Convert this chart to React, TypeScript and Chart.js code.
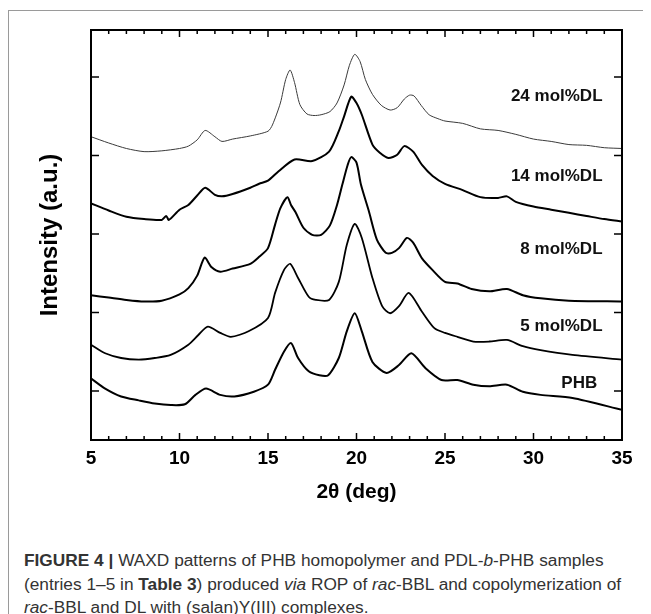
import React, { useEffect, useRef } from "react";
import { Chart, registerables } from "chart.js";

Chart.register(...registerables);

// 2θ positions (deg) and intensities (a.u., stacked offsets)
const dl24X = [5, 6, 7, 8, 9, 10, 10.5, 11, 11.45, 12, 12.4, 13, 14, 15, 15.25, 15.7, 16.0, 16.25, 16.5, 16.8, 17.2, 17.6, 18, 18.5, 18.9, 19.3, 19.6, 19.9, 20.2, 20.5, 20.9, 21.4, 21.9, 22.3, 22.7, 23.0, 23.25, 23.65, 24.1, 24.6, 25, 26, 27, 28, 29, 30, 31, 32, 33, 34, 35];
const dl24Y = [324, 316, 309, 305, 306, 309, 312, 320, 332, 324, 318, 321, 325, 331, 339, 367, 397, 409, 393, 365, 353, 351, 352, 356, 367, 390, 415, 429, 420, 397, 378, 364, 358, 361, 372, 377, 376, 364, 352, 347, 344, 341, 334, 332, 327, 321, 318, 314, 313, 310, 309];

const dl14X = [5, 6, 7, 8, 9, 9.25, 9.4, 10, 10.5, 11, 11.45, 12, 12.4, 13, 14, 14.5, 15, 15.6, 16.5, 17.5, 18.45, 19, 19.3, 19.7, 20.0, 20.3, 20.9, 21.3, 21.8, 22.3, 22.7, 23.2, 23.7, 24.3, 25, 26, 27, 28, 28.5, 29, 30, 31, 32, 33, 34, 35];
const dl14Y = [239, 230, 222, 219, 218, 223, 218, 231, 237, 249, 259, 250, 248, 251, 259, 264, 268, 280, 295, 293, 305, 331, 350, 375, 367, 352, 314, 304, 297, 301, 312, 305, 288, 274, 264, 256, 247, 246, 248, 241, 235, 231, 227, 223, 219, 216];

const dl8X = [5, 6, 7, 8, 9, 10, 10.5, 11, 11.42, 11.8, 12.3, 13, 14, 14.5, 15, 15.4, 15.7, 16.1, 16.3, 16.55, 17.0, 17.5, 18, 18.5, 18.9, 19.2, 19.5, 19.7, 20.0, 20.25, 20.7, 21.15, 21.65, 22.0, 22.4, 22.85, 23.2, 23.7, 24.3, 25, 25.7, 26.5, 27.5, 28.5, 29.4, 30.4, 32, 35];
const dl8Y = [122, 119, 116, 114, 115, 123, 131, 147, 170, 158, 152, 156, 162, 171, 182, 212, 233, 247, 237, 228, 208, 199, 199, 211, 237, 263, 288, 298, 291, 263, 229, 193, 176, 176, 182, 195, 189, 169, 154, 139, 137, 130, 127, 130, 122, 118, 115, 114];

const dl5X = [5, 5.8, 6.7, 7.7, 8.6, 9.5, 10.5, 11.05, 11.6, 12.3, 12.9, 13.9, 15, 15.4, 15.9, 16.25, 16.7, 17.3, 17.7, 18.45, 19.0, 19.45, 19.9, 20.3, 20.9, 21.45, 21.9, 22.4, 22.95, 23.7, 24.4, 25, 25.7, 26.6, 27.5, 28.5, 29.4, 30.4, 32.2, 35];
const dl5Y = [59, 48, 42, 40, 42, 46, 59, 71, 82, 74, 69, 76, 93, 125, 154, 162, 144, 120, 116, 116, 139, 186, 213, 195, 144, 108, 99, 108, 125, 101, 80, 74, 69, 63, 63, 65, 57, 52, 46, 40];

const phbX = [5, 5.8, 6.7, 7.7, 8.6, 9.5, 10.3, 10.9, 11.5, 12.3, 13.1, 14.2, 15, 15.4, 15.9, 16.3, 16.7, 17.3, 17.9, 18.4, 19.0, 19.45, 19.9, 20.3, 20.9, 21.7, 22.4, 23.1, 23.9, 24.8, 25.7, 26.6, 27.5, 28.5, 29.4, 30.4, 32.2, 35];
const phbY = [16, 3, -7, -12, -16, -18, -17, -5, 3, -5, -7, -1, 8, 27, 50, 61, 42, 25, 20, 20, 42, 76, 99, 76, 37, 23, 33, 48, 29, 14, 14, 8, 6, 8, -1, -5, -9, -24];

const seriesNames = ["24 mol%DL", "14 mol%DL", "8 mol%DL", "5 mol%DL", "PHB"];
const labelX = [33.9, 33.9, 33.9, 33.9, 33.6];
const labelY = [375, 274, 180, 83, 10];
const yTickValues = [0, 100, 200, 300, 400];
const xMin = 5;
const xMax = 35;

const FONT = "'Liberation Sans', Arial, Helvetica, sans-serif";

function pts(xs: number[], ys: number[]) {
  return xs.map((x, i) => ({ x, y: ys[i] }));
}

const framePlugin = {
  id: "frame",
  afterDatasetsDraw(chart: any) {
    const { ctx, chartArea } = chart;
    const { left, right, top, bottom } = chartArea;
    const x = chart.scales.x;
    const y = chart.scales.y;
    ctx.save();
    ctx.strokeStyle = "#000";
    ctx.lineWidth = 2;
    ctx.strokeRect(left, top, right - left, bottom - top);
    ctx.lineWidth = 1.5;
    ctx.beginPath();
    for (const t of x.ticks) {
      const px = x.getPixelForValue(t.value);
      const len = t.value % 5 === 0 ? 7 : 4;
      ctx.moveTo(px, bottom);
      ctx.lineTo(px, bottom - len);
      ctx.moveTo(px, top);
      ctx.lineTo(px, top + len);
    }
    for (const v of yTickValues) {
      const py = y.getPixelForValue(v);
      ctx.moveTo(left, py);
      ctx.lineTo(left + 8, py);
      ctx.moveTo(right, py);
      ctx.lineTo(right - 8, py);
    }
    ctx.stroke();
    ctx.font = `bold 17px ${FONT}`;
    ctx.textAlign = "right";
    ctx.textBaseline = "middle";
    ctx.fillStyle = "#111";
    seriesNames.forEach((n, i) => {
      ctx.fillText(n, x.getPixelForValue(labelX[i]), y.getPixelForValue(labelY[i]));
    });
    ctx.restore();
  },
};

export default function App() {
  const ref = useRef<HTMLCanvasElement | null>(null);

  useEffect(() => {
    if (!ref.current) return;
    const series = [
      { d: pts(dl24X, dl24Y), c: "#3a3a3a", w: 1 },
      { d: pts(dl14X, dl14Y), c: "#000", w: 2 },
      { d: pts(dl8X, dl8Y), c: "#000", w: 2 },
      { d: pts(dl5X, dl5Y), c: "#000", w: 1.8 },
      { d: pts(phbX, phbY), c: "#000", w: 2 },
    ];
    const chart = new Chart(ref.current, {
      type: "line",
      data: {
        datasets: series.map((s, i) => ({
          label: seriesNames[i],
          data: s.d,
          borderColor: s.c,
          borderWidth: s.w,
          pointRadius: 0,
          fill: false,
          tension: 0.25,
        })),
      },
      options: {
        responsive: false,
        maintainAspectRatio: false,
        animation: false,
        layout: { padding: { left: 0, right: 20, top: 19, bottom: 0 } },
        plugins: { legend: { display: false }, tooltip: { enabled: false } },
        scales: {
          x: {
            type: "linear",
            min: xMin,
            max: xMax,
            grid: { display: false, drawTicks: false },
            border: { display: false },
            ticks: {
              stepSize: 1,
              autoSkip: false,
              maxRotation: 0,
              padding: 7,
              color: "#000",
              font: { family: FONT, size: 19, weight: "bold" },
              callback: (v: any) => (Number(v) % 5 === 0 ? String(v) : ""),
            },
            title: {
              display: true,
              text: "2θ (deg)",
              color: "#000",
              font: { family: FONT, size: 21, weight: "bold" },
              padding: { top: 0, bottom: 26 },
            },
            afterFit: (s: any) => {
              s.height = 91;
            },
          },
          y: {
            type: "linear",
            min: -62.5,
            max: 460,
            grid: { display: false, drawTicks: false },
            border: { display: false },
            ticks: { display: false },
            title: {
              display: true,
              text: "Intensity (a.u.)",
              color: "#000",
              font: { family: FONT, size: 24, weight: "bold" },
              padding: { top: 27, bottom: 0 },
            },
            afterFit: (s: any) => {
              s.width = 82;
            },
          },
        },
      },
      plugins: [framePlugin],
    } as any);
    return () => chart.destroy();
  }, []);

  return (
    <div style={{ paddingTop: 2 }}>
      <style>{`html,body{overflow:hidden}`}</style>
      <div
        style={{
          position: "relative",
          boxSizing: "border-box",
          width: 636,
          height: 640,
          borderTop: "1px solid #9a9a9a",
          borderLeft: "1px solid #9a9a9a",
          borderRight: "1px solid #9a9a9a",
          background: "#fff",
        }}
      >
        <canvas ref={ref} width={633} height={520} style={{ display: "block", width: 633, height: 520 }} />
        <div
          style={{
            position: "absolute",
            left: 15,
            top: 538,
            fontFamily: FONT,
            fontSize: 17.3,
            lineHeight: "23.5px",
            color: "#333",
            whiteSpace: "nowrap",
          }}
        >
          <b>FIGURE 4 |</b> WAXD patterns of PHB homopolymer and PDL-<i>b</i>-PHB samples
          <br />
          (entries 1–5 in <b>Table 3</b>) produced <i>via</i> ROP of <i>rac</i>-BBL and copolymerization of
          <br />
          <i>rac</i>-BBL and DL with (salan)Y(III) complexes.
        </div>
      </div>
    </div>
  );
}
